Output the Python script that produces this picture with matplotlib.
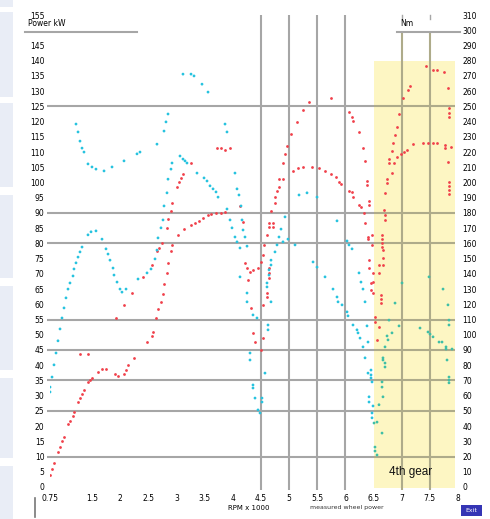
import numpy as np
import matplotlib
matplotlib.use("Agg")
import matplotlib.pyplot as plt
from matplotlib.patches import Rectangle

# ---------------- data ----------------
# red runs (power, left axis)
r1_rpm = [750, 786, 821, 892, 928, 963, 999, 1070, 1105, 1159, 1176, 1248, 1283, 1319, 1354, 1425, 1461, 1496,
          1603, 1674, 1745, 1905, 1958, 2065, 2101, 2136, 2243, 2474, 2563, 2580, 2634, 2669, 2722, 2758, 2776,
          2829, 2847, 2900, 2918, 3025, 3131, 3256, 3327, 3398, 3469, 3558, 3611, 3700, 3789, 3860]
r1_val = [3.9, 5.9, 7.9, 11.5, 13.1, 15.1, 16.4, 20.7, 21.7, 23.3, 24.6, 27.9, 29.2, 30.5, 31.9, 34.5, 35.1, 35.8,
          37.8, 38.8, 38.8, 37.1, 36.5, 37.1, 38.4, 40.1, 42.4, 47.6, 49.6, 50.9, 55.5, 58.5, 60.8, 63.4, 66.6,
          70.3, 73.6, 77.5, 79.5, 82.8, 84.7, 86.0, 86.7, 87.4, 88.3, 89.3, 89.7, 90.0, 90.0, 90.3]

r2_rpm = [1283, 1425, 1923, 2065, 2207, 2403, 2563, 2651, 2687, 2740, 2829, 2847, 2900, 2918, 3007, 3042, 3078,
          3113, 3256, 3718, 3789, 3860, 3949, 4126, 4180, 4215, 4251, 4268, 4322, 4357, 4393]
r2_val = [43.7, 43.7, 55.5, 59.8, 63.7, 69.0, 72.9, 77.5, 78.5, 80.1, 85.1, 88.0, 90.6, 93.3, 98.5, 100.2, 101.5,
          102.8, 106.4, 111.3, 111.3, 110.7, 111.3, 92.3, 87.0, 73.6, 71.9, 68.0, 58.8, 50.6, 47.6]

r3_rpm = [4499, 4535, 4535, 4606, 4606, 4642, 4642, 4642, 4535, 4553, 4606, 4642, 4713, 4642, 4713, 4677, 4748,
          4748, 4784, 4819, 4890, 4926, 4961, 5033, 5139, 5246, 5353, 5744, 6063, 6117, 6134, 6241, 6312, 6348,
          6383, 6383, 6419, 6419, 6472, 6472, 6419, 6419, 6490, 6490, 6454, 6454, 6490, 6525, 6525, 6561]
r3_val = [45.0, 48.9, 59.8, 62.4, 63.7, 68.6, 70.3, 71.9, 76.2, 79.5, 82.8, 85.4, 85.4, 86.7, 86.7, 90.6, 93.3,
          95.2, 97.2, 98.5, 106.4, 109.4, 112.0, 115.9, 119.9, 123.8, 126.4, 127.7, 123.2, 121.5, 120.2, 116.6,
          111.3, 107.1, 100.5, 99.2, 93.9, 92.6, 82.8, 79.5, 74.5, 71.9, 70.3, 67.3, 67.0, 64.7, 63.7, 55.8,
          54.2, 48.3]

r4_rpm = [4304, 4357, 4446, 4499, 4819, 4890, 5068, 5157, 5246, 5406, 5530, 5637, 5744, 5832, 5886, 5921, 6063,
          6117, 6134, 6241, 6276, 6330, 6348, 6401, 6401]
r4_val = [70.6, 71.3, 71.9, 73.9, 101.1, 101.1, 103.8, 104.8, 105.1, 105.1, 104.8, 103.8, 102.8, 101.8, 100.2,
          99.5, 97.2, 96.9, 95.2, 92.6, 92.0, 90.0, 86.7, 82.1, 81.4]

r5_rpm = [6596, 6632, 6632, 6632, 6596, 6596, 6667, 6667, 6667, 6650, 6650, 6650, 6650, 6703, 6703, 6685, 6703,
          6739, 6739, 6774, 6774, 6827, 6845, 6881, 6916, 6952, 7023, 7112, 7147, 7432, 7556, 7627, 7751, 7822,
          7840, 7840, 7840]
r5_val = [52.5, 60.4, 61.7, 63.1, 70.3, 72.9, 72.9, 75.2, 77.8, 78.8, 80.1, 81.4, 82.8, 87.7, 89.3, 91.0, 96.6,
          99.8, 101.1, 106.4, 107.7, 110.3, 113.0, 115.6, 118.2, 122.5, 127.7, 130.4, 131.7, 138.2, 136.9, 136.9,
          136.3, 131.0, 124.5, 122.8, 121.5]

r6_rpm = [6827, 6863, 6916, 6988, 7041, 7094, 7201, 7378, 7467, 7556, 7627, 7769, 7769, 7876, 7822, 7840, 7840,
          7840, 7840]
r6_val = [103.1, 106.4, 108.4, 109.4, 110.0, 110.7, 112.6, 113.0, 113.0, 113.0, 113.0, 112.3, 111.3, 111.7,
          106.7, 100.2, 98.9, 97.5, 96.2]

# cyan runs (torque, plotted on the left-axis scale)
c1_rpm = [750, 750, 786, 821, 857, 892, 928, 963, 999, 1034, 1070, 1105, 1159, 1176, 1212, 1248, 1283, 1319,
          1425, 1479, 1567, 1674, 1745, 1781, 1816, 1870, 1887, 1941, 1994, 2029, 2101, 2314, 2474, 2545, 2616,
          2651, 2669, 2722, 2758, 2776, 2829, 2847, 2900, 2918, 3060, 3113, 3149, 3184, 3362, 3487, 3540, 3593,
          3647, 3700, 3736, 3895, 3949, 3984, 4037, 4073, 4126, 4251, 4251, 4304, 4304, 4357, 4357, 4393, 4446,
          4482]
c1_val = [31.2, 32.8, 36.1, 40.1, 44.0, 48.0, 51.9, 55.5, 58.8, 62.1, 65.0, 67.0, 69.3, 71.6, 73.6, 75.5, 77.2,
          78.8, 82.8, 83.8, 84.1, 81.4, 78.2, 76.5, 74.5, 71.9, 69.6, 67.3, 65.0, 64.0, 65.0, 68.3, 70.3, 71.6,
          74.9, 77.8, 81.8, 85.1, 87.7, 92.3, 96.6, 101.1, 104.4, 106.4, 108.7, 107.7, 107.1, 106.4, 103.1,
          101.5, 100.5, 98.9, 97.9, 96.9, 95.2, 91.3, 87.7, 85.1, 82.1, 80.5, 78.5, 63.7, 60.8, 44.0, 41.7,
          33.5, 32.5, 29.2, 25.3, 24.3]

c2_rpm = [1212, 1248, 1283, 1319, 1354, 1425, 1496, 1567, 1710, 1852, 2065, 2296, 2349, 2651, 2776, 2811, 2847,
          3113, 3256, 3309, 3451, 3558, 3860, 3895, 4037, 4073, 4108, 4144, 4162, 4180, 4215, 4251, 4126, 4357,
          4428]
c2_val = [119.2, 116.6, 113.6, 111.3, 110.0, 106.1, 105.1, 104.4, 103.8, 105.1, 107.1, 109.4, 110.0, 112.6,
          116.9, 119.9, 122.5, 135.6, 135.6, 135.0, 132.3, 129.7, 119.2, 116.6, 103.1, 97.9, 95.9, 92.3, 87.7,
          84.4, 82.1, 79.1, 69.0, 56.5, 55.5]

c3_rpm = [4517, 4517, 4570, 4624, 4624, 4677, 4606, 4606, 4642, 4642, 4677, 4677, 4748, 4784, 4819, 4855, 4926,
          5175, 5317, 5495, 5850, 6028, 6063, 6117, 6241, 6276, 6312, 6348, 6383, 6401, 6401, 6454, 6454, 6490,
          6561, 6650]
c3_val = [29.2, 27.9, 37.4, 51.6, 53.2, 60.8, 65.7, 67.0, 69.6, 71.3, 72.9, 74.5, 77.2, 79.5, 82.1, 84.7, 88.7,
          95.9, 96.6, 95.2, 87.4, 80.8, 79.5, 78.2, 70.3, 67.3, 65.0, 60.8, 52.9, 47.6, 37.4, 38.4, 36.8, 26.6,
          21.3, 17.7]

c4_rpm = [4890, 4979, 5104, 5424, 5495, 5637, 5779, 5850, 5868, 5939, 6028, 6045, 6134, 6205, 6223, 6259, 6312,
          6348, 6454, 6472, 6419, 6419, 6472, 6472, 6508, 6525, 6525, 6561]
c4_val = [80.5, 81.4, 79.5, 73.9, 72.2, 69.0, 65.0, 62.4, 60.8, 59.8, 57.5, 56.2, 53.2, 51.6, 50.6, 48.9, 46.0,
          42.4, 35.8, 34.5, 29.6, 27.9, 24.3, 22.7, 21.0, 13.1, 11.8, 10.5]

c5_rpm = [6650, 6650, 6667, 6667, 6703, 6703, 6703, 6739, 6756, 6774, 6881, 7005, 7485, 7734, 7822, 7840, 7840,
          7805, 7840, 7840, 7840]
c5_val = [34.5, 32.8, 42.4, 41.7, 46.0, 40.7, 39.4, 49.6, 48.3, 54.8, 60.4, 67.0, 69.0, 65.0, 59.8, 54.8, 53.2,
          41.7, 36.1, 35.1, 34.2]

c6_rpm = [6596, 6667, 6827, 6952, 7325, 7467, 7503, 7556, 7663, 7716, 7787, 7787, 7894]
c6_val = [27.0, 29.6, 50.6, 52.9, 52.2, 50.9, 50.2, 49.3, 47.6, 47.6, 46.0, 45.3, 45.3]

# axes / annotations
x_ticks = [750] + list(range(1500, 8001, 500))
y_left_ticks = [v for v in range(0, 156, 5) if v != 150]
y_right_ticks = list(range(0, 311, 10))
hlines = [125, 90, 80, 55, 45, 35, 25, 10]
vlines_full = [4500, 5000, 5500, 6000]
vlines_short = [7000, 7500]
gear_band = (6500, 7950)
gear_label = "4th gear"

# ---------------- drawing ----------------
W, H = 490, 519
fig = plt.figure(figsize=(W / 100, H / 100), dpi=100)
fig.patch.set_facecolor("white")

def fx(px):
    return px / W

def fy(py):
    return 1 - py / H

# left side page panels
for top, bot in [(0, 7), (12, 97), (103, 187), (195, 278), (286, 370), (378, 458), (466, 519)]:
    fig.patches.append(Rectangle((0, fy(bot)), fx(13), (bot - top) / H, transform=fig.transFigure,
                                 facecolor="#e9edf6", edgecolor="none"))

ax = fig.add_axes([fx(50), fy(490), 408 / W, 478 / H])
ax.set_xlim(750, 8000)
ax.set_ylim(-1.0, 156.0)
for s in ax.spines.values():
    s.set_visible(False)

# yellow gear band
ax.add_patch(Rectangle((gear_band[0], -0.5), gear_band[1] - gear_band[0], 140.5,
                       facecolor="#fdf6c3", edgecolor="none", zorder=0))

grey = "#a6a6a6"
olive = "#aeab8a"
lw = 1.5
for h in hlines:
    ax.plot([690, gear_band[0]], [h, h], color=grey, lw=lw, zorder=1, clip_on=False,
            solid_capstyle="butt")
    ax.plot([gear_band[0], gear_band[1]], [h, h], color=olive, lw=lw, zorder=1,
            solid_capstyle="butt")
for v in vlines_full:
    ax.plot([v, v], [155, -1], color=grey, lw=lw, zorder=1, solid_capstyle="butt")
for v in vlines_short:
    ax.plot([v, v], [149.4, -1], color=olive, lw=lw, zorder=1, solid_capstyle="butt")
    ax.plot([v, v], [155, 153.8], color=grey, lw=1.0, zorder=1)

# title lines at top
ax.plot([300, 2300], [149.4, 149.4], color=grey, lw=lw, clip_on=False, zorder=1)
ax.plot([6916, 8040], [149.4, 149.4], color=grey, lw=lw, clip_on=False, zorder=1)
ax.text(360, 150.6, "Power kW", fontsize=5.5, ha="left", va="bottom", color="black")
ax.text(6970, 150.6, "Nm", fontsize=5.5, ha="left", va="bottom", color="black")

red = "#f0404a"
cyan = "#27c3df"
teal = "#3fbfa6"

for xs, ys in [(r1_rpm, r1_val), (r2_rpm, r2_val), (r3_rpm, r3_val), (r4_rpm, r4_val),
               (r5_rpm, r5_val), (r6_rpm, r6_val)]:
    ax.scatter(xs, ys, s=4, c=red, linewidths=0, zorder=3)

for xs, ys in [(c1_rpm, c1_val), (c2_rpm, c2_val), (c3_rpm, c3_val), (c4_rpm, c4_val),
               (c5_rpm, c5_val), (c6_rpm, c6_val)]:
    xs = np.asarray(xs)
    cols = np.where(xs >= gear_band[0], teal, cyan)
    ax.scatter(xs, ys, s=4, c=list(cols), linewidths=0, zorder=3)

ax.text(sum(gear_band) / 2 - 60, 4.9, gear_label, fontsize=8.5, ha="center", va="center",
        family="Liberation Sans", color="#111111", zorder=4)

# ticks
ax.set_xticks(x_ticks)
ax.set_xticklabels([f"{t / 1000:g}" for t in x_ticks], fontsize=5.5)
ax.set_yticks(y_left_ticks)
ax.set_yticklabels([str(t) for t in y_left_ticks], fontsize=5.5)
ax.tick_params(axis="both", length=0, pad=3)
ax.tick_params(axis="y", pad=4)

ax2 = ax.twinx()
ax2.set_ylim(-2.0, 312.0)
for s in ax2.spines.values():
    s.set_visible(False)
ax2.set_yticks(y_right_ticks)
ax2.set_yticklabels([str(t) for t in y_right_ticks], fontsize=5.5)
ax2.tick_params(axis="y", length=0, pad=3)

# bottom captions
fig.text(fx(228), fy(508), "RPM x 1000", fontsize=5, ha="left", va="center")
fig.text(fx(310), fy(508), "measured wheel power", fontsize=4.5, ha="left", va="center", color="#333333")
fig.patches.append(Rectangle((fx(461), fy(516)), 21 / W, 11 / H, transform=fig.transFigure,
                             facecolor="#3535b5", edgecolor="none"))
fig.text(fx(471.5), fy(510.5), "Exit", fontsize=4.5, ha="center", va="center", color="white")
fig.lines.append(plt.Line2D([fx(35), fx(35)], [fy(498), fy(517)], transform=fig.transFigure,
                            color="#777777", lw=1.2))

fig.savefig("out.png", dpi=100)
